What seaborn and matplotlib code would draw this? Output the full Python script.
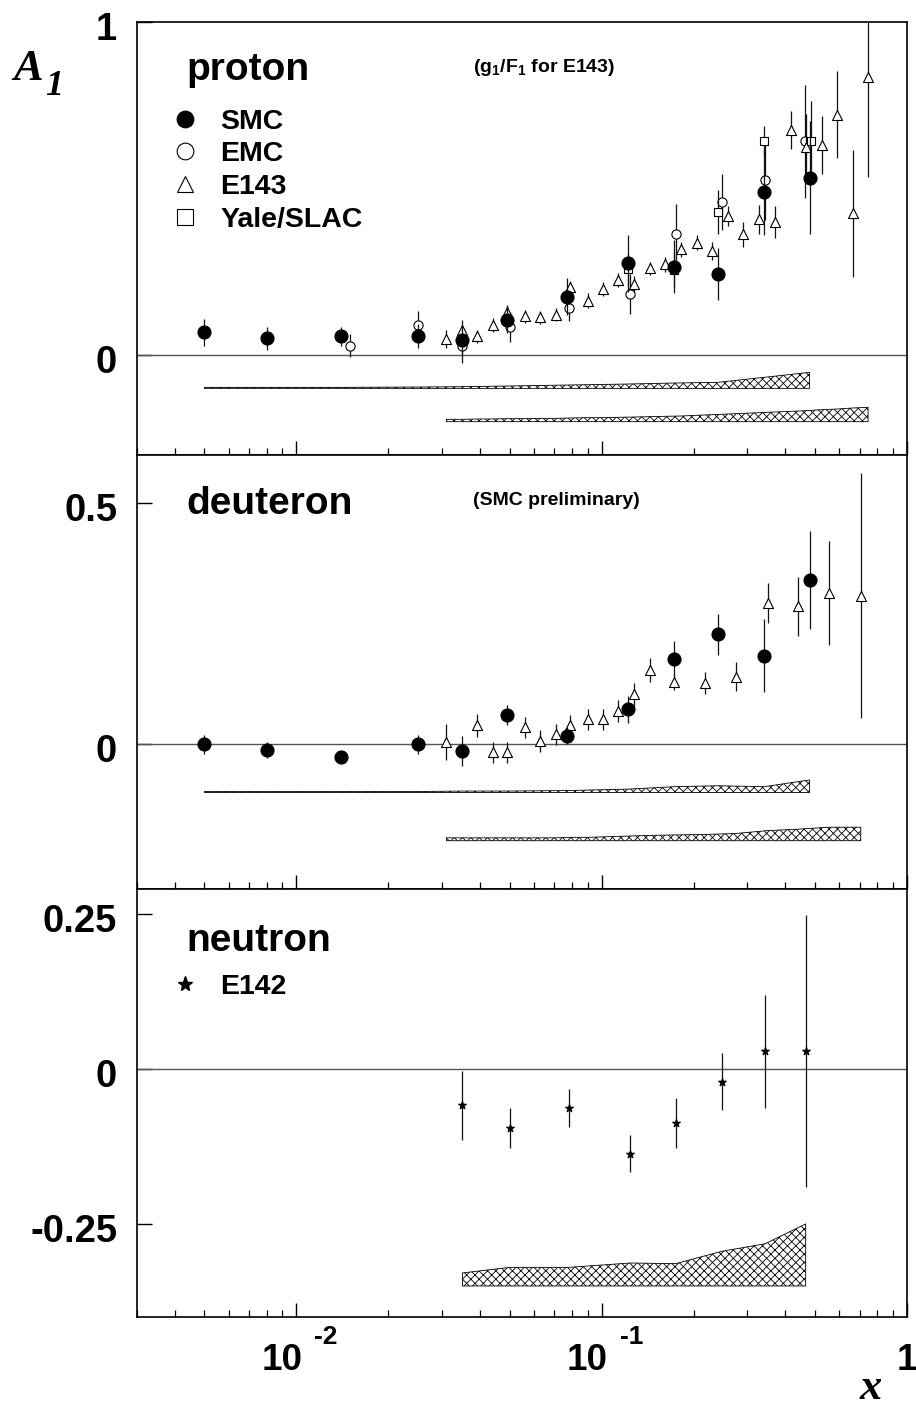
import numpy as np
import pandas as pd
import matplotlib
matplotlib.use('Agg')
import matplotlib.pyplot as plt
import seaborn as sns
from matplotlib.lines import Line2D
from matplotlib.ticker import NullLocator, FixedLocator, FixedFormatter
from matplotlib.transforms import ScaledTranslation, blended_transform_factory

sns.set_theme(style='ticks')
plt.rcParams['font.family'] = ['Liberation Sans', 'DejaVu Sans']
plt.rcParams['font.weight'] = 'bold'
plt.rcParams['mathtext.fontset'] = 'custom'
plt.rcParams['mathtext.rm'] = 'Liberation Sans:bold'
plt.rcParams['mathtext.bf'] = 'Liberation Sans:bold'
plt.rcParams['mathtext.it'] = 'Liberation Sans:bold'
plt.rcParams['hatch.linewidth'] = 0.6
plt.rcParams['hatch.color'] = 'black'
plt.rcParams['text.color'] = 'black'
plt.rcParams['axes.edgecolor'] = 'black'
plt.rcParams['xtick.color'] = 'black'
plt.rcParams['ytick.color'] = 'black'

# ---------------- proton ----------------
smc_p_x = [0.005, 0.008, 0.014, 0.025, 0.035, 0.049, 0.077, 0.122, 0.173, 0.240, 0.340, 0.480]
smc_p_y = [0.068, 0.050, 0.056, 0.058, 0.045, 0.106, 0.175, 0.275, 0.265, 0.243, 0.490, 0.532]
smc_p_e = [0.040, 0.035, 0.028, 0.036, 0.045, 0.040, 0.055, 0.085, 0.080, 0.078, 0.130, 0.170]
smc_p_sys = [0.003, 0.003, 0.003, 0.004, 0.005, 0.007, 0.010, 0.013, 0.016, 0.018, 0.033, 0.048]

emc_x = [0.015, 0.025, 0.035, 0.050, 0.078, 0.124, 0.175, 0.248, 0.342, 0.463]
emc_y = [0.028, 0.091, 0.026, 0.083, 0.141, 0.183, 0.364, 0.459, 0.525, 0.642]
emc_e = [0.035, 0.040, 0.050, 0.045, 0.040, 0.060, 0.090, 0.085, 0.120, 0.170]

yale_x = [0.122, 0.173, 0.240, 0.340, 0.485]
yale_y = [0.257, 0.255, 0.430, 0.644, 0.642]
yale_e = [0.050, 0.050, 0.067, 0.045, 0.120]

e143_p_x = [0.031, 0.035, 0.039, 0.044, 0.049, 0.056, 0.063, 0.071, 0.079, 0.090,
            0.101, 0.113, 0.128, 0.144, 0.161, 0.182, 0.205, 0.230, 0.259, 0.291,
            0.328, 0.370, 0.416, 0.467, 0.526, 0.591, 0.664, 0.746]
e143_p_y = [0.048, 0.076, 0.056, 0.090, 0.130, 0.116, 0.113, 0.121, 0.203, 0.163,
            0.198, 0.225, 0.213, 0.260, 0.272, 0.317, 0.337, 0.312, 0.417, 0.362,
            0.407, 0.399, 0.677, 0.625, 0.632, 0.722, 0.425, 0.836]
e143_p_e = [0.028, 0.030, 0.020, 0.020, 0.020, 0.020, 0.020, 0.020, 0.020, 0.022,
            0.020, 0.020, 0.025, 0.020, 0.022, 0.022, 0.022, 0.026, 0.030, 0.037,
            0.045, 0.048, 0.057, 0.100, 0.087, 0.130, 0.190, 0.300]
e143_p_sys = [0.007, 0.007, 0.008, 0.008, 0.009, 0.009, 0.010, 0.010, 0.011, 0.012,
              0.012, 0.013, 0.014, 0.015, 0.016, 0.017, 0.019, 0.021, 0.023, 0.025,
              0.027, 0.029, 0.031, 0.033, 0.036, 0.038, 0.041, 0.043]

# ---------------- deuteron ----------------
smc_d_x = [0.005, 0.008, 0.014, 0.025, 0.035, 0.049, 0.077, 0.122, 0.173, 0.240, 0.340, 0.480]
smc_d_y = [0.000, -0.012, -0.027, 0.000, -0.014, 0.061, 0.018, 0.073, 0.177, 0.228, 0.184, 0.341]
smc_d_e = [0.020, 0.017, 0.010, 0.020, 0.032, 0.020, 0.018, 0.028, 0.037, 0.043, 0.075, 0.102]
smc_d_sys = [0.002, 0.002, 0.002, 0.002, 0.003, 0.003, 0.004, 0.007, 0.012, 0.014, 0.012, 0.026]

e143_d_x = [0.031, 0.039, 0.044, 0.049, 0.056, 0.063, 0.071, 0.079, 0.090, 0.101,
            0.113, 0.128, 0.144, 0.172, 0.218, 0.275, 0.350, 0.441, 0.555, 0.706]
e143_d_y = [0.005, 0.039, -0.017, -0.017, 0.035, 0.007, 0.021, 0.039, 0.052, 0.052,
            0.069, 0.104, 0.154, 0.129, 0.127, 0.140, 0.293, 0.286, 0.314, 0.308]
e143_d_e = [0.037, 0.024, 0.022, 0.022, 0.022, 0.022, 0.022, 0.022, 0.022, 0.022,
            0.022, 0.024, 0.024, 0.016, 0.022, 0.030, 0.041, 0.061, 0.108, 0.254]
e143_d_sys = [0.006, 0.006, 0.006, 0.006, 0.006, 0.006, 0.006, 0.007, 0.007, 0.008,
              0.009, 0.010, 0.011, 0.012, 0.013, 0.015, 0.021, 0.024, 0.028, 0.028]

# ---------------- neutron ----------------
e142_x = [0.035, 0.050, 0.078, 0.124, 0.175, 0.248, 0.343, 0.466]
e142_y = [-0.059, -0.095, -0.063, -0.137, -0.087, -0.021, 0.028, 0.029]
e142_e = [0.056, 0.032, 0.031, 0.030, 0.040, 0.046, 0.091, 0.219]
e142_sys = [0.021, 0.030, 0.030, 0.037, 0.036, 0.056, 0.068, 0.100]

band_base_1 = -0.10
band_base_2 = -0.20
band_base_n = -0.35

fig = plt.figure(figsize=(9.16, 14.09), dpi=100)
L, W = 0.1492, 0.8409
ax1 = fig.add_axes([L, 0.6771, W, 0.3073])
ax2 = fig.add_axes([L, 0.3691, W, 0.3080])
ax3 = fig.add_axes([L, 0.0653, W, 0.3038])
axes = [ax1, ax2, ax3]


def points(ax, x, y, e, marker, size, face, z):
    ax.errorbar(x, y, yerr=e, fmt='none', ecolor='#111111', elinewidth=0.9,
                capsize=0, zorder=z)
    df = pd.DataFrame({'x': x, 'y': y})
    sns.scatterplot(data=df, x='x', y='y', ax=ax, marker=marker, s=size,
                    color=face, edgecolor='black', linewidth=0.8,
                    zorder=z + 0.5, legend=False)


def band(ax, x, w, base):
    top = [base + v for v in w]
    ax.fill_between(x, base, top, facecolor='white', edgecolor='black',
                    hatch='xxxx', linewidth=0.6, zorder=2)


for ax in axes:
    ax.axhline(0, color='#555555', lw=1.0, zorder=1)

# proton
points(ax1, emc_x, emc_y, emc_e, 'o', 44, 'white', 3)
points(ax1, e143_p_x, e143_p_y, e143_p_e, '^', 52, 'white', 4)
points(ax1, yale_x, yale_y, yale_e, 's', 40, 'white', 5)
points(ax1, smc_p_x, smc_p_y, smc_p_e, 'o', 88, 'black', 6)
band(ax1, smc_p_x, smc_p_sys, band_base_1)
band(ax1, e143_p_x, e143_p_sys, band_base_2)

# deuteron
points(ax2, e143_d_x, e143_d_y, e143_d_e, '^', 52, 'white', 4)
points(ax2, smc_d_x, smc_d_y, smc_d_e, 'o', 88, 'black', 6)
band(ax2, smc_d_x, smc_d_sys, band_base_1)
band(ax2, e143_d_x, e143_d_sys, band_base_2)

# neutron
points(ax3, e142_x, e142_y, e142_e, '*', 34, 'black', 5)
band(ax3, e142_x, e142_sys, band_base_n)

ylims = [(-0.3, 1.0), (-0.3, 0.6), (-0.4, 0.29)]
yticks = [[0, 1], [0, 0.5], [-0.25, 0, 0.25]]
ylabels = [['0', '1'], ['0', '0.5'], ['-0.25', '0', '0.25']]

for ax, yl, yt, ytl in zip(axes, ylims, yticks, ylabels):
    ax.set_xscale('log')
    ax.set_xlim(0.003, 1.0)
    ax.set_ylim(*yl)
    ax.set_xlabel('')
    ax.set_ylabel('')
    ax.yaxis.set_major_locator(FixedLocator(yt))
    ax.yaxis.set_major_formatter(FixedFormatter(ytl))
    ax.yaxis.set_minor_locator(NullLocator())
    ax.tick_params(axis='x', which='both', direction='in', top=False, bottom=True,
                   labelbottom=False)
    ax.tick_params(axis='x', which='major', length=9.8, width=1.0)
    ax.tick_params(axis='x', which='minor', length=5.0, width=0.9)
    ax.tick_params(axis='y', which='major', direction='in', length=11, width=1.0,
                   left=True, right=False, labelsize=27.5, pad=14)
    for s in ax.spines.values():
        s.set_linewidth(1.2)
        s.set_color('black')
        s.set_visible(True)
    off = ScaledTranslation(0, -4 / 100, fig.dpi_scale_trans)
    for lab in ax.get_yticklabels():
        lab.set_fontweight('bold')
        lab.set_transform(lab.get_transform() + off)

# x tick labels (ROOT style)
tr = blended_transform_factory(ax3.transData, ax3.transAxes)
for t, base, exp in [(0.01, '10', '-2'), (0.1, '10', '-1')]:
    ax3.annotate(base, xy=(t, 0), xycoords=tr, xytext=(4.3, -31),
                 textcoords='offset points', ha='right', va='center',
                 fontsize=26.5, fontweight='bold')
    ax3.annotate(exp, xy=(t, 0), xycoords=tr, xytext=(13, -14.4),
                 textcoords='offset points', ha='left', va='center',
                 fontsize=19, fontweight='bold')
ax3.annotate('1', xy=(1.0, 0), xycoords=tr, xytext=(0, -31),
             textcoords='offset points', ha='center', va='center',
             fontsize=26.5, fontweight='bold', annotation_clip=False)

# panel texts
ax1.text(0.064, 0.866, 'proton', transform=ax1.transAxes, fontsize=28,
         fontweight='bold', va='baseline')
ax1.text(0.4366, 0.885, r'(g$_{1}$/F$_{1}$ for E143)', transform=ax1.transAxes,
         fontsize=14, fontweight='bold', va='baseline')
ax2.text(0.064, 0.864, 'deuteron', transform=ax2.transAxes, fontsize=28,
         fontweight='bold', va='baseline')
ax2.text(0.4366, 0.885, '(SMC preliminary)', transform=ax2.transAxes,
         fontsize=14, fontweight='bold', va='baseline')
ax3.text(0.064, 0.856, 'neutron', transform=ax3.transAxes, fontsize=28,
         fontweight='bold', va='baseline')

# legends
lk = dict(ls='none', mec='black', mew=0.8, ms=12)
h1 = [Line2D([], [], marker='o', mfc='black', **lk),
      Line2D([], [], marker='o', mfc='white', **lk),
      Line2D([], [], marker='^', mfc='white', **lk),
      Line2D([], [], marker='s', mfc='white', **lk)]
ax1.legend(h1, ['SMC', 'EMC', 'E143', 'Yale/SLAC'], loc='upper left',
           bbox_to_anchor=(0.0443, 0.800), frameon=False,
           prop={'size': 20.5, 'weight': 'bold'}, handlelength=1.0,
           handletextpad=0.73, labelspacing=0.24, borderpad=0, borderaxespad=0)
h3 = [Line2D([], [], ls='none', marker='*', mfc='black', mec='black', ms=11)]
ax3.legend(h3, ['E142'], loc='upper left', bbox_to_anchor=(0.0443, 0.801),
           frameon=False, prop={'size': 20.5, 'weight': 'bold'}, handlelength=1.0,
           handletextpad=0.73, borderpad=0, borderaxespad=0)

# axis titles
fig.text(13 / 916, 1 - 80 / 1409, 'A', family=['Liberation Serif', 'DejaVu Serif'],
         style='italic', weight='bold', fontsize=32, ha='left', va='baseline')
fig.text(45 / 916, 1 - 95 / 1409, '1', family=['Liberation Serif', 'DejaVu Serif'],
         style='italic', weight='bold', fontsize=26, ha='left', va='baseline')
fig.text(871 / 916, 1 - 1399 / 1409, 'x', family=['Liberation Serif', 'DejaVu Serif'],
         style='italic', weight='bold', fontsize=32, ha='center', va='baseline')

fig.savefig('out.png', dpi=100, facecolor='white')
